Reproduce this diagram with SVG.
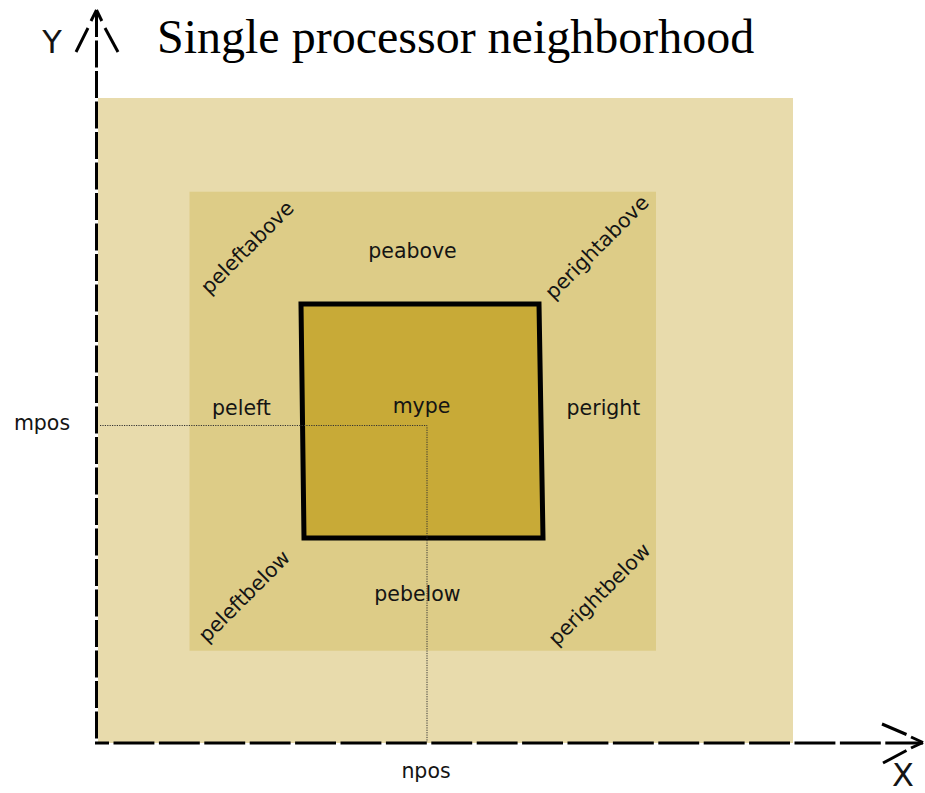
<svg xmlns="http://www.w3.org/2000/svg" width="925" height="793" viewBox="0 0 925 793">
  <style>
    .lbl { font-family: "DejaVu Sans", "Noto Sans", sans-serif; font-size: 20.5px; fill: #141414; text-anchor: middle; }
    .axlbl { font-family: "DejaVu Sans", sans-serif; font-size: 32px; fill: #141414; text-anchor: middle; }
    .title { font-family: "Liberation Serif", "Times New Roman", serif; font-size: 48px; fill: #000; }
    .axis { stroke: #000; stroke-width: 3; fill: none; }
    .head { stroke: #000; stroke-width: 3; fill: none; stroke-linecap: butt; }
    .guide { stroke: #333; stroke-width: 1; stroke-dasharray: 1.2 1.2; fill: none; }
  </style>

  <text class="title" x="157" y="53">Single processor neighborhood</text>

  <!-- global domain -->
  <g id="domain">
    <rect x="98" y="98" width="695" height="645" fill="#e8dbac"/>
  </g>

  <!-- neighbouring processors -->
  <g id="neighborhood">
    <rect x="189.5" y="191.7" width="466.5" height="459" fill="#ddcc87"/>
  </g>

  <!-- this processor -->
  <g id="mype-box">
    <polygon points="301,304 539,304 543,538 304,538" fill="#c8aa37" stroke="#000" stroke-width="5" stroke-linejoin="miter"/>
  </g>

  <g id="connectors">
    <!-- position guides -->
    <polyline class="guide" points="100,425.5 427,425.5 427,742"/>
    <!-- Y axis -->
    <line class="axis" x1="96.5" y1="10" x2="96.5" y2="743" stroke-dasharray="27 3.5"/>
    <line class="head" x1="96.5" y1="10" x2="91" y2="21"/>
    <line class="head" x1="88" y1="28" x2="76" y2="52"/>
    <line class="head" x1="96.5" y1="10" x2="101.8" y2="21"/>
    <line class="head" x1="105" y1="28" x2="118" y2="52"/>
    <!-- X axis -->
    <line class="axis" x1="95" y1="743" x2="923" y2="743" stroke-dasharray="40.9 4.5" stroke-dashoffset="26.9"/>
    <line class="head" x1="923" y1="742.5" x2="911" y2="737"/>
    <line class="head" x1="906.5" y1="734.5" x2="882" y2="724"/>
    <line class="head" x1="923" y1="742.5" x2="911" y2="748"/>
    <line class="head" x1="906.5" y1="750.5" x2="883" y2="763"/>
  </g>

  <g id="labels">
    <text class="axlbl" x="52" y="53">Y</text>
    <text class="axlbl" x="903" y="786">X</text>
    <text class="lbl" x="42" y="430">mpos</text>
    <text class="lbl" x="426" y="778">npos</text>
    <text class="lbl" x="412.5" y="257.5">peabove</text>
    <text class="lbl" x="241.5" y="415">peleft</text>
    <text class="lbl" x="421.5" y="413">mype</text>
    <text class="lbl" x="603.5" y="415">peright</text>
    <text class="lbl" x="417.5" y="600.5">pebelow</text>
    <text class="lbl" transform="translate(248,248) rotate(-45)" y="6">peleftabove</text>
    <text class="lbl" transform="translate(597.5,248) rotate(-45)" y="6">perightabove</text>
    <text class="lbl" transform="translate(245,597) rotate(-45)" y="6">peleftbelow</text>
    <text class="lbl" transform="translate(600,595) rotate(-45)" y="6">perightbelow</text>
  </g>
</svg>
